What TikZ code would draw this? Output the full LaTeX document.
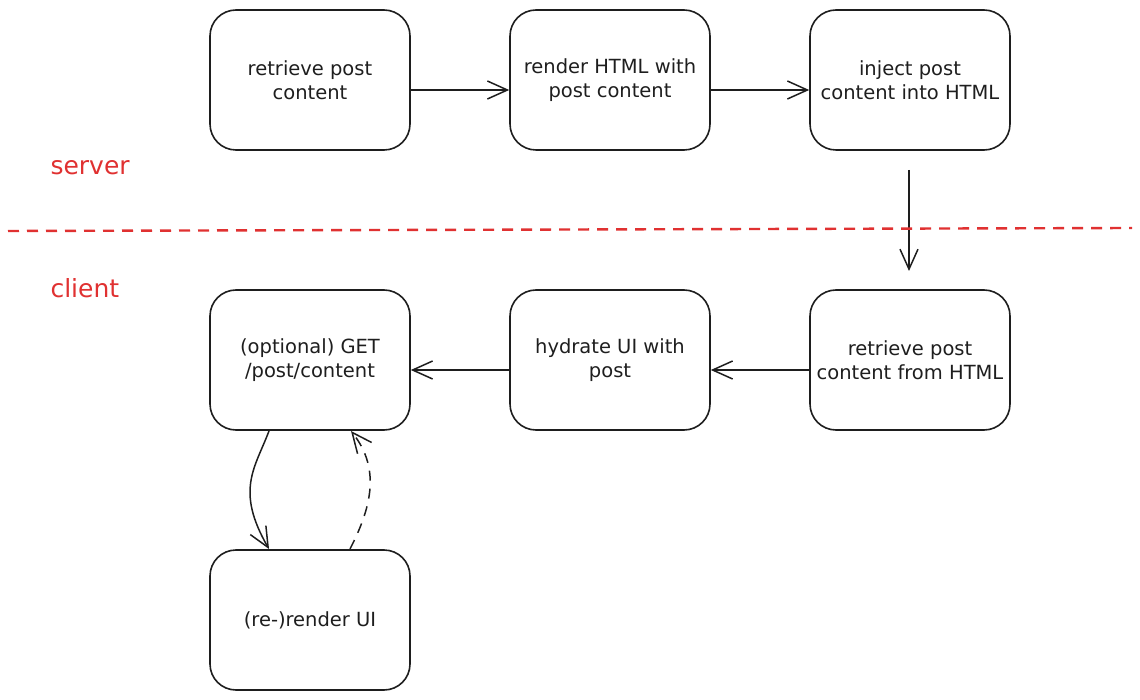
\documentclass[tikz,border=0pt]{standalone}
\usepackage{fontspec}
\setmainfont{DejaVu Sans}
\usetikzlibrary{arrows.meta}
\definecolor{exred}{HTML}{E03131}
\definecolor{exink}{HTML}{1E1E1E}
\tikzset{
  box/.style={draw=exink, line width=1.6pt, rounded corners=26pt, minimum width=200pt, minimum height=140pt, align=center, font=\fontsize{19.5}{24}\selectfont, text=exink, inner sep=0pt},
  conn/.style={draw=exink, line width=1.5pt, -{Straight Barb[length=20pt,width=18pt,line width=1.5pt]}},
  lane/.style={text=exred, font=\fontsize{25}{29}\selectfont, anchor=west}
}
\begin{document}
\begin{tikzpicture}[x=1pt,y=-1pt]
\useasboundingbox (0,0) rectangle (1140,700);
\node[box] (b1) at (310,80) {retrieve post\\content};
\node[box] (b2) at (610,80) {render HTML with\\post content};
\node[box] (b3) at (910,80) {inject post\\content into HTML};
\node[box] (b4) at (910,360) {retrieve post\\content from HTML};
\node[box] (b5) at (610,360) {hydrate UI with\\post};
\node[box] (b6) at (310,360) {(optional) GET\\/post/content};
\node[box] (b7) at (310,620) {(re-)render UI};

\draw[conn] (b1.east |- 0,90) -- (b2.west |- 0,90);
\draw[conn] (b2.east |- 0,90) -- (b3.west |- 0,90);
\coordinate (d1) at (909,170);
\coordinate (d2) at (909,271);
\draw[conn] (d1) -- (d2);
\draw[conn] (b4.west |- 0,370) -- (b5.east |- 0,370);
\draw[conn] (b5.west |- 0,370) -- (b6.east |- 0,370);
\coordinate (c1) at (269,431);
\coordinate (c2) at (269,549);
\draw[conn] (c1) .. controls (255,468) and (235,490) .. (c2);
\coordinate (e1) at (350,549);
\coordinate (e2) at (351,431);
\draw[conn, dash pattern=on 10pt off 8pt] (e1) .. controls (370,510) and (382,470) .. (e2);

\coordinate (r1) at (8,231);
\coordinate (r2) at (1132,228);
\draw[exred, line width=2.4pt, dash pattern=on 11pt off 8pt] (r1) -- (r2);
\node[lane] (srv) at (47,168) {server};
\node[lane] (cli) at (47,288) {client};
\end{tikzpicture}
\end{document}
